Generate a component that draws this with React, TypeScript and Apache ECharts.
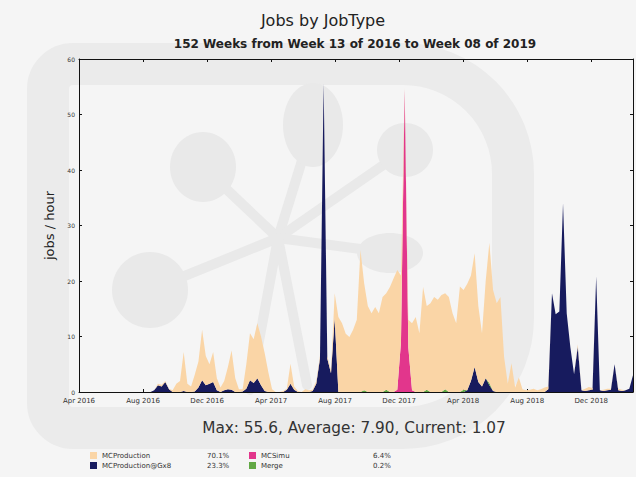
import React, { useEffect, useRef } from "react";
import * as echarts from "echarts";

const TITLE = "Jobs by JobType";
const SUBTITLE = "152 Weeks from Week 13 of 2016 to Week 08 of 2019";
const STATS = "Max: 55.6, Average: 7.90, Current: 1.07";
const Y_NAME = "jobs / hour";

const X_TICK_LABELS = [
  "Apr 2016", "Aug 2016", "Dec 2016", "Apr 2017", "Aug 2017",
  "Dec 2017", "Apr 2018", "Aug 2018", "Dec 2018",
];

const SERIES_NAMES = ["MCProduction", "MCProduction@Gx8", "MCSimu", "Merge"];
const SHARES = ["70.1%", "23.3%", "6.4%", "0.2%"];
const COLORS = ["#fad5a6", "#171b5e", "#e2368c", "#62a845"];

// weekly values, week 13 of 2016 .. week 08 of 2019 (152 weeks)
const MC_PRODUCTION = [
  0, 0, 0, 0, 0, 0, 0, 0, 0, 0,
  0, 0, 0, 0, 0, 0, 0, 0, 0, 0,
  0, 0, 0.3, 0.3, 0.2, 0.1, 0.3, 1.5, 2.0, 7.0,
  1.5, 1.0, 3.0, 4.7, 9.1, 5.3, 3.5, 5.4, 2.2, 0.8,
  1.7, 4.0, 7.1, 2.5, 0.5, 0.4, 4.4, 8.5, 7.9, 9.9,
  8.8, 6.8, 3.5, 0.5, 0, 0, 0.2, 0.2, 3.6, 0.6,
  0.2, 0, 0.5, 0.3, 0.2, 0.5, 0.5, 0, 0.5, 0.5,
  4.5, 13.5, 12.4, 10.5, 9.9, 11.2, 13.0, 25.6, 19.3, 15.5,
  14.2, 15.3, 14.2, 17.1, 17.4, 18.9, 20.5, 21.6, 12.0, 0.3,
  5.0, 12.1, 13.5, 10.6, 18.9, 15.1, 16.0, 17.1, 16.6, 17.5,
  17.3, 17.1, 14.2, 12.4, 19.0, 18.0, 19.2, 19.0, 20.5, 13.7,
  9.6, 17.5, 25.3, 18.2, 16.0, 17.1, 6.3, 1.5, 5.2, 0.8,
  2.6, 0.5, 0.3, 0.4, 0.6, 0.3, 0.5, 0.8, 0.5, 0,
  0, 0, 0, 0, 0, 0, 0.5, 0, 0.4, 0.6,
  0.3, 0, 0, 0.2, 0.3, 0.2, 0, 0.3, 0.2, 0,
  0, 0,
];

const MC_PRODUCTION_GX8 = [
  0, 0, 0, 0, 0, 0, 0, 0, 0, 0,
  0, 0, 0, 0, 0, 0, 0, 0, 0, 0,
  0, 0.3, 1.2, 1.0, 1.8, 0.5, 0, 0, 0, 0.2,
  0, 0, 0.1, 0.8, 2.1, 1.2, 1.5, 1.8, 0.3, 0,
  0.3, 0.5, 0.4, 0, 0, 0.1, 0.6, 2.1, 1.6, 2.5,
  1.2, 0.2, 0, 0, 0, 0, 0, 0.4, 1.5, 0.4,
  0, 0, 0, 0, 0.2, 1.5, 6.0, 55.6, 6.0, 3.4,
  13.3, 0, 0, 0, 0, 0, 0, 0, 0, 0,
  0, 0, 0, 0, 0, 0, 0, 0, 0, 0,
  0, 0, 0, 0, 0, 0, 0, 0, 0, 0,
  0, 0, 0, 0, 0, 0, 0.3, 2.0, 4.5, 1.8,
  1.0, 2.5, 1.2, 0.2, 0, 0, 0, 0, 0, 0,
  0, 0, 0, 0, 0, 0, 0, 0, 0.5, 17.8,
  14.0, 14.5, 34.0, 14.2, 8.0, 3.2, 8.1, 0.3, 0.2, 0.3,
  0.4, 20.8, 0.3, 0.2, 0.3, 0.4, 5.0, 0.3, 0.2, 0.3,
  0.6, 3.0,
];

const MC_SIMU = [
  0, 0, 0, 0, 0, 0, 0, 0, 0, 0,
  0, 0, 0, 0, 0, 0, 0, 0, 0, 0,
  0, 0, 0, 0, 0, 0, 0, 0, 0, 0,
  0, 0, 0, 0, 0, 0, 0, 0, 0, 0,
  0, 0, 0, 0, 0, 0, 0, 0, 0, 0,
  0, 0, 0, 0, 0, 0, 0, 0, 0, 0,
  0, 0, 0, 0, 0, 0, 0, 0, 0, 0,
  0, 0, 0, 0, 0, 0, 0, 0, 0, 0,
  0, 0, 0, 0, 0, 0, 0, 0.4, 9.0, 54.5,
  8.0, 0.3, 0, 0, 0, 0, 0, 0, 0, 0,
  0, 0, 0, 0, 0, 0, 0, 0, 0, 0,
  0, 0, 0, 0, 0, 0, 0, 0, 0, 0,
  0, 0, 0, 0, 0, 0, 0, 0, 0, 0,
  0, 0, 0, 0, 0, 0, 0, 0, 0, 0,
  0, 0, 0, 0, 0, 0, 0, 0, 0, 0,
  0, 0,
];

const MERGE = [
  0, 0, 0, 0, 0, 0, 0, 0, 0, 0,
  0, 0, 0, 0, 0, 0, 0, 0, 0, 0,
  0, 0, 0, 0, 0, 0, 0, 0, 0, 0,
  0, 0, 0, 0, 0, 0, 0, 0, 0, 0,
  0, 0, 0, 0, 0, 0, 0, 0, 0, 0,
  0, 0, 0, 0, 0, 0, 0, 0, 0, 0,
  0, 0, 0, 0, 0, 0, 0, 0, 0, 0,
  0, 0, 0, 0, 0, 0, 0, 0, 0.3, 0,
  0, 0, 0, 0, 0.4, 0, 0, 0, 0, 0,
  0, 0, 0, 0, 0, 0.4, 0, 0, 0, 0,
  0.5, 0, 0, 0, 0, 0.4, 0, 0, 0, 0,
  0, 0, 0.4, 0, 0, 0, 0, 0, 0, 0,
  0, 0, 0, 0, 0, 0, 0, 0, 0, 0,
  0, 0, 0, 0, 0, 0, 0, 0, 0, 0,
  0, 0, 0, 0, 0, 0, 0, 0, 0, 0,
  0, 0,
];

const FIRST_WEEK_START = Date.UTC(2016, 2, 28); // Monday of week 13, 2016
const DAY_MS = 86400000;
const AXIS_START = Date.UTC(2016, 3, 1); // 1 Apr 2016

function weekStart(i: number): number {
  return FIRST_WEEK_START + 7 * i * DAY_MS;
}

// months since 1 Apr 2016 for a timestamp
function toMonths(t: number): number {
  const d = new Date(t);
  const y = d.getUTCFullYear();
  const m = d.getUTCMonth();
  const day = d.getUTCDate();
  const dim = new Date(Date.UTC(y, m + 1, 0)).getUTCDate();
  return (y - 2016) * 12 + (m - 3) + (day - 1) / dim;
}

const WEEK_T = MC_PRODUCTION.map((_, i) => weekStart(i));
const AXIS_END = WEEK_T[WEEK_T.length - 1];
const MONTH_END = toMonths(AXIS_END);

const FONT = "DejaVu Sans";

export default function App() {
  const ref = useRef<HTMLDivElement>(null);

  useEffect(() => {
    if (!ref.current) return;
    const chart = echarts.init(ref.current, undefined, { renderer: "svg" });

    const mk = (name: string, values: number[], color: string) => ({
      name,
      type: "line",
      stack: "jobs",
      xAxisIndex: 0,
      yAxisIndex: 0,
      data: values.map((v, i) => [WEEK_T[i], v]),
      symbol: "none",
      showSymbol: false,
      lineStyle: { width: 0, color },
      itemStyle: { color },
      areaStyle: { color, opacity: 1 },
      emphasis: { disabled: true },
      z: 3,
    });

    const wm = "#e9e9e9";
    const hub = [278, 238];
    const spokeEnds = [
      [203, 167], [150, 290], [313, 125], [405, 150], [390, 253], [307, 385], [250, 390],
    ];

    const legendCommon = {
      orient: "vertical",
      top: 452,
      padding: 0,
      itemWidth: 7,
      itemHeight: 7,
      itemGap: 3,
      icon: "rect",
      selectedMode: false,
      textStyle: { fontFamily: FONT, fontSize: 7, color: "#333" },
    };
    const shareOf = (name: string) => SHARES[SERIES_NAMES.indexOf(name)];
    const richFor = (w: number) => ({
      n: { width: w, fontSize: 7, fontFamily: FONT, color: "#333" },
      p: { fontSize: 7, fontFamily: FONT, color: "#333" },
    });

    const monthAxis = (position: "bottom" | "top", labels: boolean) => ({
      type: "value",
      position,
      min: 0,
      max: MONTH_END,
      interval: 4,
      axisLine: { show: true, onZero: false, lineStyle: { color: "#111", width: 1 } },
      axisTick: { show: true, inside: true, length: 3, lineStyle: { color: "#111" } },
      splitLine: { show: false },
      axisLabel: labels
        ? {
            show: true,
            showMaxLabel: false,
            fontSize: 7,
            color: "#333",
            margin: 5,
            fontFamily: FONT,
            formatter: (v: number) => X_TICK_LABELS[Math.round(v / 4)] ?? "",
          }
        : { show: false },
    });

    chart.setOption({
      animation: false,
      backgroundColor: "#f5f5f5",
      textStyle: { fontFamily: FONT },
      grid: { left: 79, right: 3, top: 59, bottom: 85, containLabel: false },
      graphic: [
        {
          type: "rect",
          z: -10,
          shape: { x: 48, y: 64, width: 465, height: 364, r: [25, 110, 110, 25] },
          style: { fill: "none", stroke: "#ebebeb", lineWidth: 42 },
          silent: true,
        },
        ...spokeEnds.map((e) => ({
          type: "line",
          z: -9,
          shape: { x1: hub[0], y1: hub[1], x2: e[0], y2: e[1] },
          style: { stroke: wm, lineWidth: 10, lineCap: "round" },
          silent: true,
        })),
        ...[
          [203, 167, 33, 35],
          [150, 290, 38, 38],
          [313, 125, 30, 42],
          [405, 150, 28, 27],
          [390, 253, 33, 20],
        ].map((e) => ({
          type: "ellipse",
          z: -9,
          shape: { cx: e[0], cy: e[1], rx: e[2], ry: e[3] },
          style: { fill: wm },
          silent: true,
        })),
        {
          type: "text",
          x: 323,
          y: 20,
          style: {
            text: TITLE,
            textAlign: "center",
            textVerticalAlign: "middle",
            fontFamily: FONT,
            fontSize: 16,
            fill: "#222",
          },
        },
        {
          type: "text",
          x: 355,
          y: 44,
          style: {
            text: SUBTITLE,
            textAlign: "center",
            textVerticalAlign: "middle",
            fontFamily: FONT,
            fontSize: 12,
            fontWeight: "bold",
            fill: "#222",
          },
        },
        {
          type: "text",
          x: 354,
          y: 428,
          style: {
            text: STATS,
            textAlign: "center",
            textVerticalAlign: "middle",
            fontFamily: FONT,
            fontSize: 15.3,
            fill: "#333",
          },
        },
      ],
      legend: [
        {
          ...legendCommon,
          left: 90,
          data: [SERIES_NAMES[0], SERIES_NAMES[1]],
          formatter: (name: string) => `{n|${name}}{p|${shareOf(name)}}`,
          textStyle: { ...legendCommon.textStyle, rich: richFor(105) },
        },
        {
          ...legendCommon,
          left: 249,
          data: [SERIES_NAMES[2], SERIES_NAMES[3]],
          formatter: (name: string) => `{n|${name}}{p|${shareOf(name)}}`,
          textStyle: { ...legendCommon.textStyle, rich: richFor(112) },
        },
      ],
      xAxis: [
        {
          type: "time",
          min: AXIS_START,
          max: AXIS_END,
          show: false,
        },
        monthAxis("bottom", true),
        monthAxis("top", false),
      ],
      yAxis: [
        {
          type: "value",
          min: 0,
          max: 60,
          interval: 10,
          name: Y_NAME,
          nameLocation: "middle",
          nameGap: 11,
          nameRotate: 90,
          nameTextStyle: { fontFamily: FONT, fontSize: 13, color: "#222" },
          axisLine: { show: true, onZero: false, lineStyle: { color: "#111", width: 1 } },
          axisTick: { show: true, inside: true, length: 3, lineStyle: { color: "#111" } },
          splitLine: { show: false },
          axisLabel: { fontSize: 6, color: "#333", margin: 4, fontFamily: FONT },
        },
        {
          type: "value",
          position: "right",
          min: 0,
          max: 60,
          interval: 10,
          axisLine: { show: true, onZero: false, lineStyle: { color: "#111", width: 1 } },
          axisTick: { show: true, inside: true, length: 3, lineStyle: { color: "#111" } },
          splitLine: { show: false },
          axisLabel: { show: false },
        },
      ],
      series: [
        mk(SERIES_NAMES[1], MC_PRODUCTION_GX8, COLORS[1]),
        mk(SERIES_NAMES[2], MC_SIMU, COLORS[2]),
        mk(SERIES_NAMES[3], MERGE, COLORS[3]),
        mk(SERIES_NAMES[0], MC_PRODUCTION, COLORS[0]),
      ],
    });

    return () => chart.dispose();
  }, []);

  return (
    <div
      ref={ref}
      style={{ position: "fixed", left: 0, top: 0, width: 636, height: 477 }}
    />
  );
}
